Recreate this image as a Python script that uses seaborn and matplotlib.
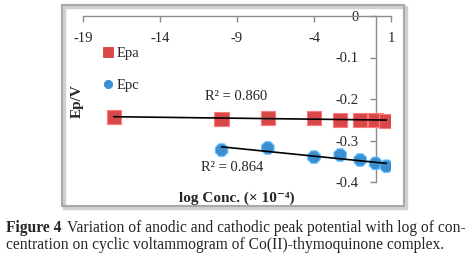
import matplotlib
matplotlib.use('Agg')
import numpy as np
import pandas as pd
import matplotlib.pyplot as plt
from matplotlib.patches import Rectangle
import seaborn as sns

# valores
logc_epa = [-17, -10, -7, -4, -2.3, -1, 0, 0.7]
epa = [-0.243, -0.248, -0.245, -0.246, -0.250, -0.250, -0.250, -0.253]
logc_epc = [-10, -7, -4, -2.3, -1, 0, 0.7]
epc = [-0.323, -0.318, -0.340, -0.335, -0.347, -0.355, -0.362]
r2_labels = ['R² = 0.860', 'R² = 0.864']
xticks = [-19, -14, -9, -4, 1]
yticks = [0, -0.1, -0.2, -0.3, -0.4]

df = pd.concat([
    pd.DataFrame({'logc': logc_epa, 'ep': epa, 'serie': 'Epa'}),
    pd.DataFrame({'logc': logc_epc, 'ep': epc, 'serie': 'Epc'}),
])

sns.set_theme(style='white')
plt.rcParams['font.family'] = ['Liberation Serif', 'DejaVu Serif']

W, H = 469, 257
fig = plt.figure(figsize=(W / 100, H / 100), dpi=100)
ax = fig.add_axes([83 / W, 1 - 182 / H, 308 / W, 166 / H])

# moldura cinza com sombra
fig.patches.append(Rectangle((64 / W, 1 - 208 / H), 342 / W, 201 / H, transform=fig.transFigure,
                             fill=False, edgecolor='#d0d0d0', lw=2.5, zorder=0))
fig.patches.append(Rectangle((62 / W, 1 - 206 / H), 342 / W, 201 / H, transform=fig.transFigure,
                             fill=False, edgecolor='#a8a8a8', lw=1.5, zorder=1))

sns.scatterplot(data=df, x='logc', y='ep', hue='serie', style='serie', size='serie',
                markers={'Epa': 's', 'Epc': '8'},
                palette={'Epa': '#d94848', 'Epc': '#3a8fd0'},
                sizes={'Epa': 105, 'Epc': 95},
                linewidth=0.8, ax=ax, zorder=3)
for c in ax.collections:
    c.set_edgecolor([tuple(min(1, v + 0.2) for v in fc[:3]) for fc in c.get_facecolors()])

for x, y in [(logc_epa, epa), (logc_epc, epc)]:
    sns.regplot(x=np.array(x), y=np.array(y), scatter=False, ci=None, truncate=True,
                color='black', line_kws={'lw': 1.2, 'zorder': 4}, ax=ax)

ax.text(-9.06, -0.195, r2_labels[0], ha='center', va='center', fontsize=10.5)
ax.text(-9.3, -0.364, r2_labels[1], ha='center', va='center', fontsize=10.5)

ax.set_xlim(-19, 1)
ax.set_ylim(-0.4, 0)
ax.set_xticks(xticks)
ax.set_xticklabels([str(t) for t in xticks])
ax.set_yticks(yticks)
ax.set_yticklabels(['0', '-0.1', '-0.2', '-0.3', '-0.4'])

for s in ['bottom', 'right']:
    ax.spines[s].set_visible(False)
ax.spines['left'].set_position(('data', 0))
for s in ['top', 'left']:
    ax.spines[s].set_color('#8c8c8c')
    ax.spines[s].set_linewidth(1)
ax.xaxis.set_ticks_position('top')
ax.tick_params(axis='x', direction='in', length=4, width=1, color='#8c8c8c',
               pad=-21, labelsize=10.5)
ax.tick_params(axis='y', left=True, direction='out', length=4, width=1, color='#8c8c8c',
               pad=8, labelsize=10.5)
ax.patch.set_alpha(0)

ax.set_ylabel('Ep/V', fontweight='bold', fontsize=11)
ax.yaxis.set_label_coords(0.004, 0.49)
ax.set_xlabel('log Conc. (× 10⁻⁴)', fontweight='bold', fontsize=11)
ax.xaxis.set_label_position('bottom')
ax.xaxis.set_label_coords(0.5, -0.06)

h, l = ax.get_legend_handles_labels()
ax.legend(h, l, loc='upper left', bbox_to_anchor=(0.03, 0.86), frameon=False,
          markerscale=0.8, handletextpad=0.0, labelspacing=1.3, fontsize=10.5,
          borderpad=0, handlelength=1.2)

# legenda da figura
fs = 11.2
t1 = fig.text(6 / W, 1 - 228 / H, 'Figure 4', fontweight='bold', fontsize=fs, va='center')
fig.canvas.draw()
x_end = t1.get_window_extent().x1
fig.text((x_end + 6) / W, 1 - 228 / H,
         'Variation of anodic and cathodic peak potential with log of con-',
         fontsize=fs, va='center')
fig.text(6 / W, 1 - 245 / H, 'centration on cyclic voltammogram of Co(II)-thymoquinone complex.',
         fontsize=fs, va='center')

plt.savefig('out.png', dpi=100)
plt.close()
